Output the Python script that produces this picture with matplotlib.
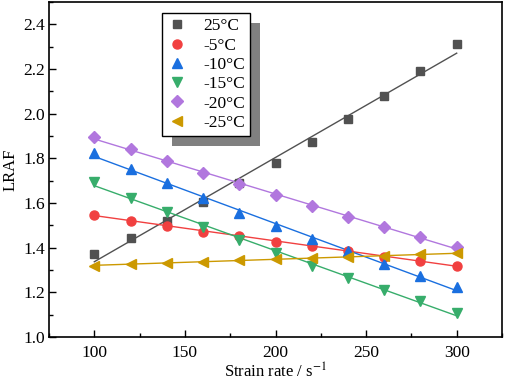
import numpy as np
import matplotlib
matplotlib.use("Agg")
import matplotlib.pyplot as plt
from matplotlib.ticker import MultipleLocator
import matplotlib.patheffects as pe

plt.rcParams['font.family'] = ['Liberation Serif', 'DejaVu Serif']
plt.rcParams['mathtext.fontset'] = 'stix'

# 歪み速度
strain_rate = [100, 120, 140, 160, 180, 200, 220, 240, 260, 280, 300]

# 各温度のLRAF
lraf_25 = [1.372, 1.445, 1.521, 1.604, 1.691, 1.780, 1.875, 1.975, 2.080, 2.190, 2.310]
lraf_m5 = [1.547, 1.521, 1.499, 1.472, 1.454, 1.427, 1.408, 1.385, 1.360, 1.341, 1.319]
lraf_m10 = [1.824, 1.754, 1.689, 1.621, 1.557, 1.497, 1.438, 1.385, 1.327, 1.272, 1.223]
lraf_m15 = [1.696, 1.624, 1.559, 1.494, 1.435, 1.378, 1.319, 1.263, 1.211, 1.161, 1.109]
lraf_m20 = [1.897, 1.842, 1.787, 1.733, 1.684, 1.634, 1.587, 1.536, 1.491, 1.447, 1.405]
lraf_m25 = [1.319, 1.327, 1.333, 1.337, 1.344, 1.348, 1.353, 1.357, 1.364, 1.370, 1.375]

labels = ['25°C', '-5°C', '-10°C', '-15°C', '-20°C', '-25°C']
series = [lraf_25, lraf_m5, lraf_m10, lraf_m15, lraf_m20, lraf_m25]
colors = ['#515151', '#F14040', '#1A6FDF', '#37AD6B', '#B177DE', '#CC9900']
markers = ['s', 'o', '^', 'v', 'D', '<']
msizes = [6, 6.5, 7, 7, 6, 7]

fig = plt.figure(figsize=(5.05, 3.83), dpi=100)
ax = fig.add_axes([49 / 505, 1 - 337 / 383, 453 / 505, 335 / 383])

x = np.array(strain_rate)
for y, lab, c, m, ms in zip(series, labels, colors, markers, msizes):
    # 線形回帰
    k, b = np.polyfit(x, y, 1)
    ax.plot(x, k * x + b, color=c, lw=1.0, zorder=2)
    ax.plot(x, y, ls='none', marker=m, color=c, ms=ms, mec=c, label=lab, zorder=3)

ax.set_xlim(75, 325)
ax.set_ylim(1.0, 2.5)
ax.xaxis.set_major_locator(MultipleLocator(50))
ax.xaxis.set_minor_locator(MultipleLocator(25))
ax.yaxis.set_major_locator(MultipleLocator(0.2))
ax.yaxis.set_minor_locator(MultipleLocator(0.1))
ax.yaxis.set_major_formatter(matplotlib.ticker.FormatStrFormatter('%.1f'))
ax.tick_params(which='major', direction='in', length=5, width=1, labelsize=12.5)
ax.tick_params(axis='x', which='major', pad=6)
ax.tick_params(axis='y', which='major', pad=3)
ax.tick_params(which='minor', direction='in', length=3, width=1)
for s in ax.spines.values():
    s.set_linewidth(1.2)

ax.set_xlabel('Strain rate / s$^{-1}$', fontsize=12, labelpad=1)
ax.set_ylabel('LRAF', fontsize=12, labelpad=3)

leg = ax.legend(loc='upper left', bbox_to_anchor=(0.249, 0.967), fontsize=12.5,
                frameon=True, fancybox=False, shadow=False, edgecolor='black',
                facecolor='white', framealpha=1.0,
                handletextpad=0.9, labelspacing=0.18, borderpad=0.3,
                handlelength=1.2, borderaxespad=0)
leg.get_frame().set_linewidth(1.0)
leg.get_frame().set_path_effects([pe.SimplePatchShadow(offset=(7, -7), shadow_rgbFace='#808080', alpha=1.0), pe.Normal()])

fig.savefig('out.png', dpi=100)
